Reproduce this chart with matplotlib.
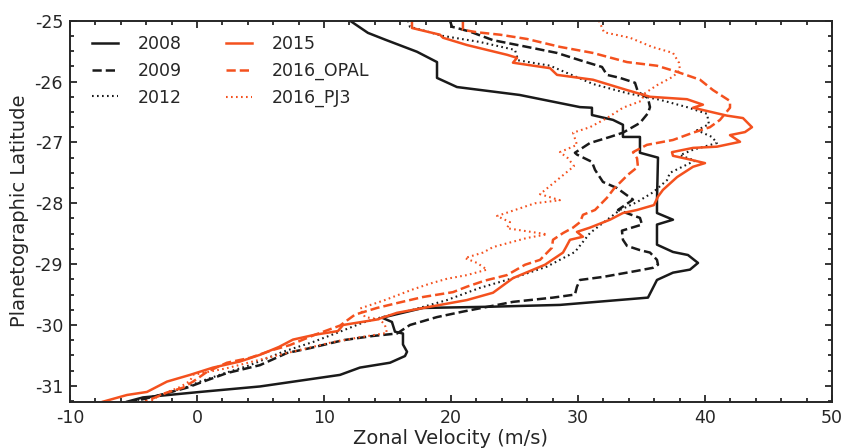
import numpy as np
import matplotlib
matplotlib.use('Agg')
import matplotlib.pyplot as plt
from matplotlib.ticker import MultipleLocator

plt.rcParams['font.family'] = ['DejaVu Sans']
plt.rcParams['axes.unicode_minus'] = False

# zonal velocity profiles (lat in deg, velocity in m/s)
lat_2008 = [-25.0, -25.20, -25.31, -25.51, -25.68, -25.94, -26.09, -26.22, -26.42, -26.43,
            -26.55, -26.63, -26.71, -26.91, -26.91, -27.17, -27.25, -27.95, -28.16, -28.27,
            -28.35, -28.68, -28.80, -28.85, -28.98, -29.09, -29.14, -29.26, -29.42, -29.55,
            -29.67, -29.70, -29.72, -29.88, -29.95, -30.11, -30.14, -30.32, -30.44, -30.51,
            -30.62, -30.70, -30.82, -31.01, -31.10, -31.19, -31.26]
vel_2008 = [12.05, 13.46, 14.80, 17.32, 18.90, 18.90, 20.47, 25.40, 30.16, 31.10,
            31.10, 32.76, 33.54, 33.54, 34.88, 34.88, 36.30, 36.22, 36.22, 37.48,
            36.22, 36.22, 37.48, 38.66, 39.45, 38.82, 37.48, 36.22, 35.83, 35.51,
            28.58, 23.07, 17.80, 14.57, 15.35, 15.59, 16.22, 16.22, 16.54, 16.38,
            15.20, 12.83, 11.26, 4.96, 0.24, -4.25, -5.5]

lat_2009 = [-25.0, -25.10, -25.12, -25.18, -25.32, -25.45, -25.53, -25.65, -25.76, -25.89,
            -25.94, -26.02, -26.17, -26.27, -26.42, -26.52, -26.68, -26.84, -26.91, -27.01,
            -27.17, -27.20, -27.32, -27.45, -27.65, -27.75, -27.94, -28.11, -28.24, -28.35,
            -28.45, -28.60, -28.70, -28.77, -28.81, -28.93, -29.01, -29.06, -29.11, -29.21,
            -29.26, -29.37, -29.50, -29.55, -29.62, -29.78, -29.87, -30.00, -30.14, -30.18,
            -30.25, -30.38, -30.46, -30.66, -30.79, -30.95, -31.03, -31.15, -31.26]
vel_2009 = [19.92, 20.08, 20.47, 21.50, 23.31, 26.46, 28.35, 30.16, 31.89, 32.28,
            33.31, 34.49, 34.72, 35.51, 35.67, 35.51, 34.88, 33.54, 32.52, 30.94,
            29.76, 29.92, 31.10, 31.34, 31.97, 33.07, 34.33, 33.15, 34.88, 35.04,
            33.46, 33.54, 33.86, 34.88, 35.67, 36.22, 36.30, 35.91, 34.65, 31.97,
            30.16, 29.92, 29.76, 28.03, 24.88, 20.94, 18.90, 16.77, 15.75, 13.86,
            11.50, 8.90, 7.09, 4.96, 2.36, 0.24, -0.79, -2.91, -5.04]

lat_2012 = [-25.0, -25.10, -25.25, -25.35, -25.48, -25.65, -25.74, -26.04, -26.19, -26.30,
            -26.42, -26.53, -26.70, -26.80, -26.91, -27.01, -27.12, -27.21, -27.30, -27.50,
            -27.62, -27.82, -27.98, -28.11, -28.31, -28.49, -28.80, -29.04, -29.23, -29.39,
            -29.59, -29.75, -29.88, -29.96, -30.11, -30.28, -30.44, -30.66, -30.79, -30.93,
            -31.03, -31.15, -31.26]
vel_2012 = [16.61, 16.77, 19.37, 22.28, 25.04, 25.28, 27.80, 31.18, 33.86, 36.46,
            38.58, 40.16, 40.31, 39.37, 40.55, 40.94, 39.06, 38.03, 39.21, 37.24,
            37.01, 35.91, 34.65, 33.31, 32.05, 30.94, 29.76, 27.56, 24.88, 22.28,
            19.69, 17.01, 14.41, 13.07, 11.26, 9.13, 6.77, 4.17, 2.20, 0.24,
            -0.94, -2.91, -5.28]

lat_2015 = [-25.0, -25.12, -25.23, -25.28, -25.40, -25.56, -25.61, -25.69, -25.78, -25.89,
            -25.97, -26.14, -26.25, -26.29, -26.38, -26.43, -26.56, -26.60, -26.75, -26.83,
            -26.88, -26.99, -27.07, -27.09, -27.16, -27.22, -27.27, -27.34, -27.40, -27.57,
            -27.78, -27.89, -28.03, -28.11, -28.16, -28.27, -28.40, -28.47, -28.55, -28.60,
            -28.72, -28.81, -29.01, -29.23, -29.47, -29.59, -29.70, -29.80, -29.91, -30.00,
            -30.10, -30.16, -30.24, -30.36, -30.49, -30.60, -30.70, -30.82, -30.93, -31.10,
            -31.15, -31.26]
vel_2015 = [16.93, 16.93, 19.13, 19.37, 21.26, 24.41, 25.20, 24.88, 27.80, 28.35,
            31.18, 33.86, 35.67, 38.58, 39.84, 39.06, 41.73, 42.99, 43.70, 43.15,
            41.97, 42.76, 40.94, 39.06, 37.40, 37.48, 38.58, 40.00, 39.06, 37.80,
            36.69, 36.30, 35.98, 34.65, 33.54, 32.52, 30.94, 29.92, 30.39, 29.37,
            29.06, 28.82, 27.40, 24.88, 23.31, 21.26, 18.35, 15.75, 14.17, 11.50,
            11.10, 9.29, 7.56, 6.46, 4.96, 3.39, 1.26, -0.55, -2.36, -3.94,
            -5.51, -7.40]

lat_opal = [-25.0, -25.15, -25.19, -25.23, -25.30, -25.43, -25.53, -25.68, -25.74, -25.84,
            -25.97, -26.14, -26.32, -26.43, -26.63, -26.75, -26.84, -26.96, -27.04, -27.16,
            -27.26, -27.40, -27.53, -27.76, -27.91, -28.11, -28.19, -28.31, -28.40, -28.49,
            -28.60, -28.73, -28.93, -29.01, -29.18, -29.27, -29.37, -29.46, -29.54, -29.64,
            -29.72, -29.83, -30.01, -30.16, -30.33, -30.41, -30.54, -30.62, -30.77, -30.93,
            -31.03, -31.11, -31.26]
vel_opal = [20.94, 20.94, 22.05, 23.86, 25.98, 28.58, 31.18, 33.86, 36.22, 37.80,
            39.61, 40.63, 41.97, 41.97, 41.18, 40.39, 39.06, 37.48, 35.43, 34.33,
            34.65, 34.72, 33.94, 32.83, 32.28, 31.34, 30.39, 30.16, 29.61, 28.82,
            28.03, 27.95, 27.01, 25.83, 24.41, 22.68, 21.26, 20.16, 17.80, 15.75,
            14.17, 12.44, 11.26, 9.29, 7.32, 5.98, 4.17, 2.36, 0.79, -0.31,
            -1.10, -2.36, -4.09]

lat_pj3 = [-25.0, -25.19, -25.28, -25.43, -25.53, -25.69, -25.81, -25.92, -26.06, -26.19,
           -26.32, -26.43, -26.60, -26.75, -26.84, -27.04, -27.16, -27.26, -27.39, -27.62,
           -27.85, -27.95, -28.00, -28.11, -28.21, -28.31, -28.41, -28.46, -28.51, -28.57,
           -28.72, -28.81, -28.90, -28.98, -29.09, -29.18, -29.24, -29.32, -29.42, -29.59,
           -29.73, -29.87, -29.91, -30.00, -30.13, -30.21, -30.28, -30.41, -30.54, -30.71,
           -30.82, -30.92, -31.02, -31.15, -31.26]
vel_pj3 = [31.65, 32.05, 34.09, 35.83, 37.48, 37.95, 38.03, 37.48, 36.22, 35.28,
           34.96, 33.54, 32.28, 30.94, 29.61, 29.92, 28.58, 29.21, 29.69, 28.35,
           27.01, 28.58, 26.61, 25.04, 23.62, 24.65, 24.41, 25.98, 27.56, 25.98,
           23.31, 22.52, 21.10, 22.05, 22.83, 21.26, 19.69, 18.35, 16.93, 14.80,
           12.83, 13.23, 14.41, 14.80, 14.96, 12.60, 10.71, 8.11, 5.51, 2.36,
           -0.31, -0.55, -1.34, -2.91, -3.70]

labels = ['2008', '2009', '2012', '2015', '2016_OPAL', '2016_PJ3']
black = '#1a1a1a'
orange = '#f4511e'
text_color = '#262626'

fig = plt.figure(figsize=(8.45, 4.48), dpi=100)
ax = fig.add_axes([0.0828, 0.1034, 0.9018, 0.8504])

lw = 1.8
dot = (0, (0.8, 1.6))
ax.plot(vel_2008, lat_2008, color=black, lw=lw, ls='-', label=labels[0])
ax.plot(vel_2009, lat_2009, color=black, lw=lw, ls='--', label=labels[1])
ax.plot(vel_2012, lat_2012, color=black, lw=1.5, ls=dot, label=labels[2])
ax.plot(vel_2015, lat_2015, color=orange, lw=lw, ls='-', label=labels[3])
ax.plot(vel_opal, lat_opal, color=orange, lw=lw, ls='--', label=labels[4])
ax.plot(vel_pj3, lat_pj3, color=orange, lw=1.5, ls=dot, label=labels[5])

ax.set_xlim(-10, 50)
ax.set_ylim(-31.26, -25)
ax.xaxis.set_major_locator(MultipleLocator(10))
ax.xaxis.set_minor_locator(MultipleLocator(2))
ax.yaxis.set_major_locator(MultipleLocator(1))
ax.yaxis.set_minor_locator(MultipleLocator(0.25))
ax.tick_params(which='both', direction='in', top=True, right=True,
               colors=text_color, labelsize=12.5, width=1.3)
ax.tick_params(which='major', length=5, pad=5)
ax.tick_params(which='minor', length=2.8)
for sp in ax.spines.values():
    sp.set_color(text_color)
    sp.set_linewidth(1.4)

# the reference crops this label at the bottom edge, keep it mostly visible
ax.set_xlabel('Zonal Velocity (m/s)', fontsize=14, color=text_color, labelpad=2)
ax.set_ylabel('Planetographic Latitude', fontsize=14, color=text_color, labelpad=4)

ax.legend(loc='upper left', bbox_to_anchor=(0.029, 0.962), ncol=2, frameon=False,
          fontsize=12.5, handlelength=1.5, handletextpad=1.15, columnspacing=2.5,
          labelspacing=0.5, borderpad=0, borderaxespad=0, labelcolor=text_color)

fig.savefig('out.png', dpi=100)
